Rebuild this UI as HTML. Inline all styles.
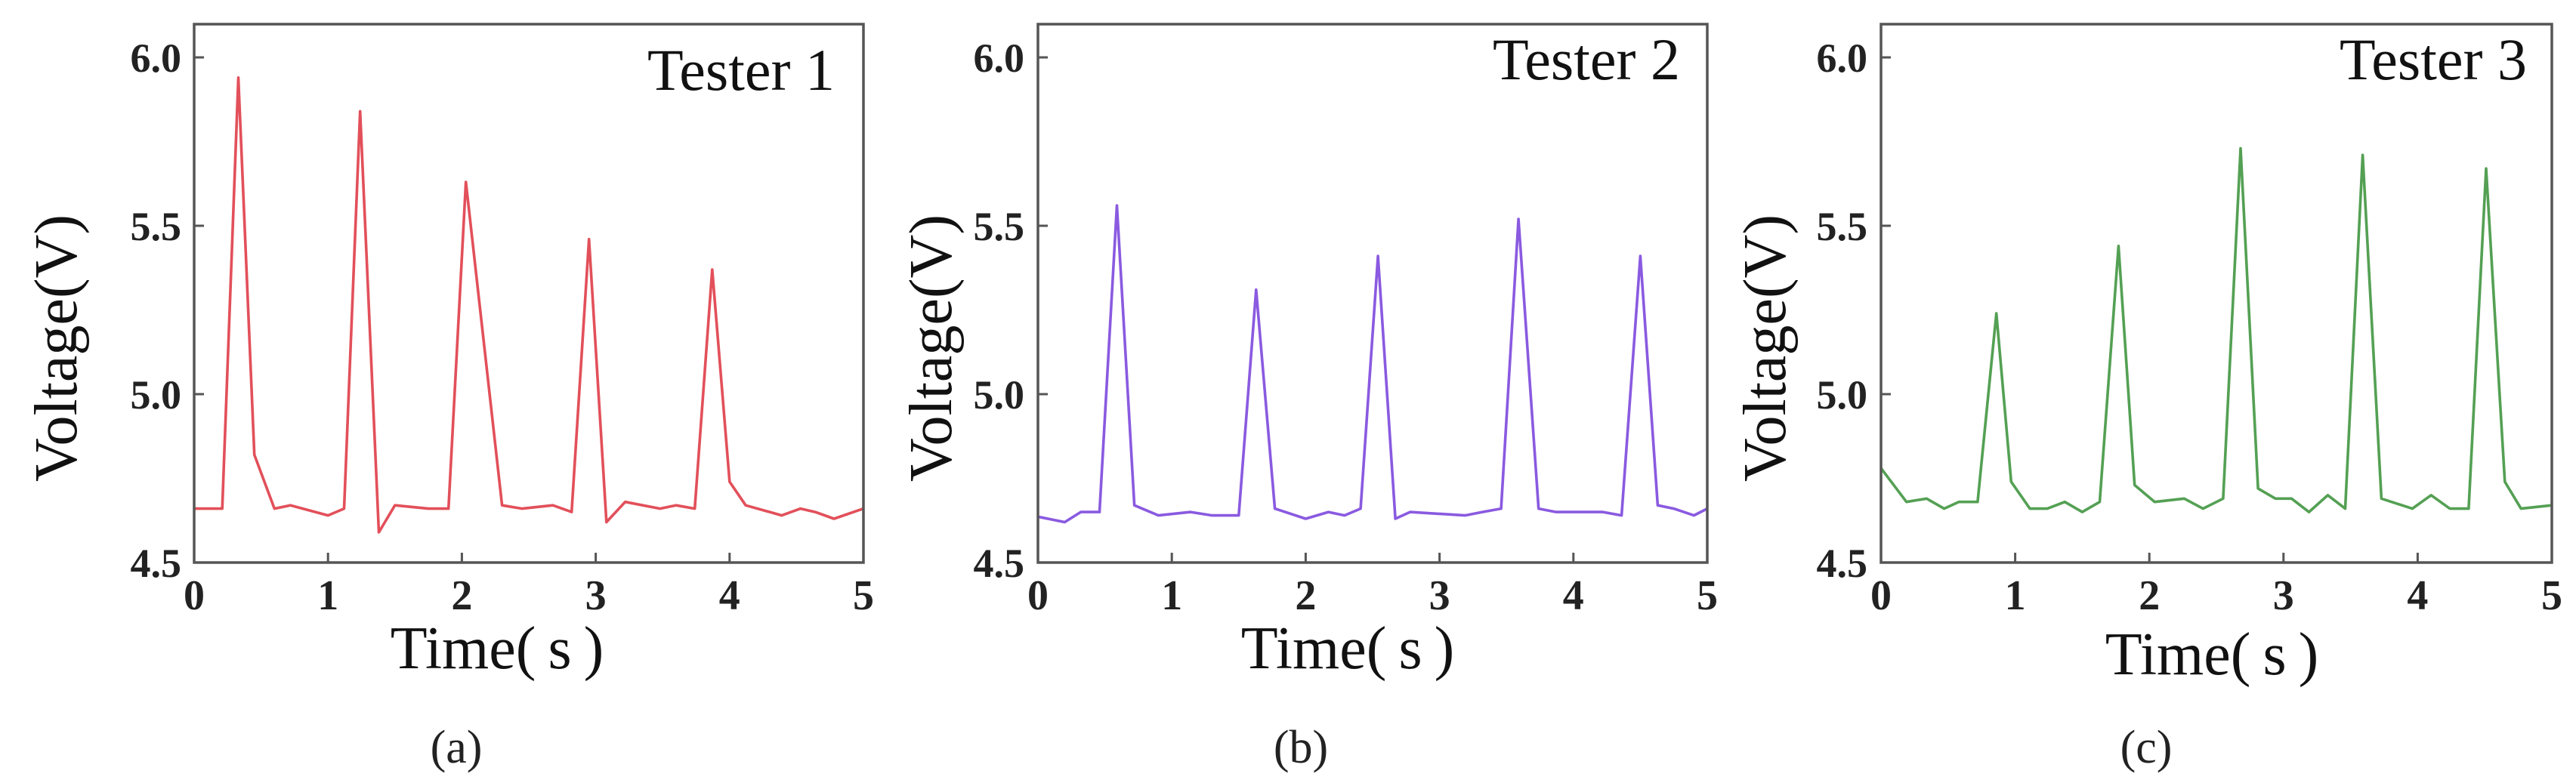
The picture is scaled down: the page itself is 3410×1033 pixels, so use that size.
<!DOCTYPE html>
<html><head><meta charset="utf-8">
<style>
html,body{margin:0;padding:0;background:#fff;}
svg{display:block;}
</style></head>
<body>
<svg id="fig" width="3410" height="1033" viewBox="0 0 3410 1033" xmlns="http://www.w3.org/2000/svg"></svg>
<script>
const yTicks = [4.5, 5.0, 5.5, 6.0];
const xTicks = [0, 1, 2, 3, 4, 5];
const testerNames = ["Tester 1", "Tester 2", "Tester 3"];
const panelLabels = ["(a)", "(b)", "(c)"];
const timeA = [0,0.21,0.33,0.45,0.6,0.72,1.0,1.12,1.24,1.38,1.5,1.75,1.9,2.03,2.3,2.45,2.68,2.82,2.95,3.08,3.22,3.48,3.6,3.74,3.87,4.0,4.12,4.39,4.53,4.64,4.78,5.0];
const voltA = [4.66,4.66,5.94,4.82,4.66,4.67,4.64,4.66,5.84,4.59,4.67,4.66,4.66,5.63,4.67,4.66,4.67,4.65,5.46,4.62,4.68,4.66,4.67,4.66,5.37,4.74,4.67,4.64,4.66,4.65,4.63,4.66];
const timeB = [0,0.2,0.32,0.46,0.59,0.72,0.9,1.14,1.3,1.5,1.63,1.77,2.0,2.17,2.29,2.41,2.54,2.67,2.78,3.19,3.32,3.46,3.59,3.74,3.87,4.22,4.36,4.5,4.63,4.75,4.9,5.0];
const voltB = [4.636,4.62,4.65,4.65,5.56,4.67,4.64,4.65,4.64,4.64,5.31,4.66,4.63,4.65,4.64,4.66,5.41,4.63,4.65,4.64,4.65,4.66,5.52,4.66,4.65,4.65,4.64,5.41,4.67,4.66,4.64,4.66];
const timeC = [0,0.19,0.34,0.47,0.58,0.72,0.86,0.97,1.11,1.24,1.37,1.5,1.63,1.77,1.89,2.04,2.26,2.4,2.55,2.68,2.81,2.94,3.06,3.19,3.33,3.46,3.59,3.73,3.96,4.1,4.24,4.38,4.51,4.65,4.77,5.0];
const voltC = [4.78,4.68,4.69,4.66,4.68,4.68,5.24,4.74,4.66,4.66,4.68,4.65,4.68,5.44,4.73,4.68,4.69,4.66,4.69,5.73,4.72,4.69,4.69,4.65,4.70,4.66,5.71,4.69,4.66,4.70,4.66,4.66,5.67,4.74,4.66,4.67];

const NS = "http://www.w3.org/2000/svg";
const svg = document.getElementById("fig");
function mk(tag, attrs, parent){
  const e = document.createElementNS(NS, tag);
  for (const k in attrs) e.setAttribute(k, attrs[k]);
  (parent||svg).appendChild(e);
  return e;
}
const panels = [
  {L:257, R:1143, times:timeA, volts:voltA, color:"#e2505a", yl:73, tagR:1105, tagY:119, tx:658, ty:885, lx:604, ly:1010, tickEnd:240},
  {L:1374, R:2260, times:timeB, volts:voltB, color:"#8a5ae0", yl:1231, tagR:2224, tagY:105, tx:1784, ty:885, lx:1722, ly:1010, tickEnd:1356},
  {L:2490, R:3378, times:timeC, volts:voltC, color:"#54a054", yl:2335, tagR:3345, tagY:105, tx:2928, ty:893, lx:2841, ly:1010, tickEnd:2472}
];
const TOP = 32, BOT = 745, y45 = 745, y60 = 76;
panels.forEach((p, i) => {
  const g = mk("g", {});
  
  
  const xs = t => p.L + (p.R - p.L) * t / 5;
  const ys = v => y45 + (v - 4.5) * (y60 - y45) / 1.5;
  let d = "";
  p.times.forEach((t, k) => { d += (k ? "L" : "M") + xs(t).toFixed(1) + " " + ys(p.volts[k]).toFixed(1); });
  const line = mk("path", {d:d, fill:"none", stroke:p.color, "stroke-width":3.6, "stroke-linejoin":"round"}, g);
  
  
  const fr = mk("rect", {x:p.L, y:TOP, width:p.R-p.L, height:BOT-TOP, fill:"none", stroke:"#555", "stroke-width":3.5}, g);
  
  
  xTicks.forEach(t => {
    mk("line", {x1:xs(t), x2:xs(t), y1:BOT, y2:BOT-13, stroke:"#555", "stroke-width":3}, g);
    const tl = mk("text", {x:xs(t), y:BOT+62, "text-anchor":"middle", "font-family":"Liberation Serif, serif", "font-weight":"bold", "font-size":56, fill:"#222"}, g);
    tl.textContent = t;
    
    
  });
  yTicks.forEach(v => {
    mk("line", {x1:p.L, x2:p.L+13, y1:ys(v), y2:ys(v), stroke:"#555", "stroke-width":3}, g);
    const tl = mk("text", {x:p.tickEnd, y:ys(v)+19, "text-anchor":"end", "font-family":"Liberation Serif, serif", "font-weight":"bold", "font-size":54, fill:"#222"}, g);
    tl.textContent = v.toFixed(1);
    
    
  });
  const yt = mk("text", {x:0, y:0, transform:"translate(" + (p.yl+28) + ",461) rotate(-90)", "text-anchor":"middle", "font-family":"Liberation Serif, serif", "font-size":80, fill:"#111"}, g);
  yt.textContent = "Voltage(V)";
  
  
  const xt = mk("text", {x:p.tx, y:p.ty, "text-anchor":"middle", "font-family":"Liberation Serif, serif", "font-size":80, fill:"#111"}, g);
  xt.textContent = "Time(\u2009s\u2009)";
  
  
  const tg = mk("text", {x:p.tagR, y:p.tagY, "text-anchor":"end", "font-family":"Liberation Serif, serif", "font-size":78, fill:"#111"}, g);
  tg.textContent = testerNames[i];
  
  
  const pl = mk("text", {x:p.lx, y:p.ly, "text-anchor":"middle", "font-family":"Liberation Serif, serif", "font-size":62, fill:"#222"}, g);
  pl.textContent = panelLabels[i];
  
  
});
</script>
</body></html>
